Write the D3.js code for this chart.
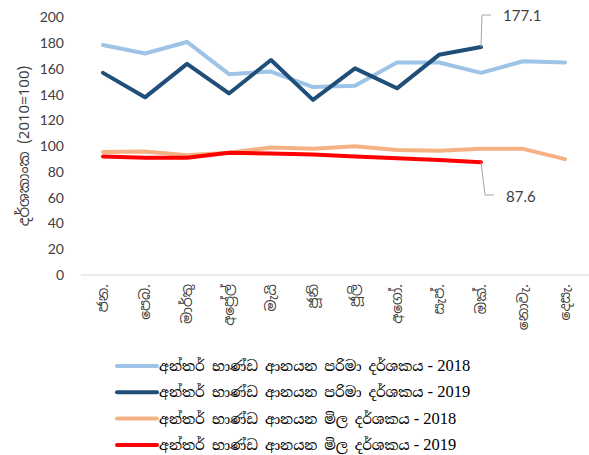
<!DOCTYPE html>
<html lang="si">
<head>
  <meta charset="UTF-8" />
  <title>අන්තර් භාණ්ඩ ආනයන දර්ශක</title>
  <script src="https://cdnjs.cloudflare.com/ajax/libs/d3/7.8.4/d3.min.js"></script>
  <style>
    body {
      margin: 0;
      background: #fff;
      overflow: hidden;
    }
    svg {
      display: block;
    }
    .tick-y text {
      font-family: Lato, "Open Sans", sans-serif;
      font-size: 14px;
      fill: #404040;
    }
    .month text {
      font-family: "Noto Sans Sinhala", "Noto Serif Sinhala", "Iskoola Pota", sans-serif;
      font-size: 14px;
      fill: #404040;
    }
    .legend text {
      font-family: "Noto Serif Sinhala", "Iskoola Pota", "Liberation Serif", serif;
      font-size: 14px;
      fill: #000;
    }
    .legend .yr {
      font-family: "Liberation Serif", serif;
      font-size: 16.5px;
    }
    .series {
      fill: none;
      stroke-width: 4px;
      stroke-linejoin: round;
      stroke-linecap: round;
    }
  </style>
</head>
<body>
  <svg width="589" height="455"></svg>
  <script>
    const months = ["ජන.", "පෙබ.", "මාර්තු", "අප්‍රේල්", "මැයි", "ජූනි", "ජූලි", "අගෝ.", "සැප්.", "ඔක්.", "නොවැ.", "දෙසැ."];
    const yTicks = [0, 20, 40, 60, 80, 100, 120, 140, 160, 180, 200];

    // values (2019 stops at October)
    const volume2018 = [178.6, 172, 181, 156, 158, 146, 147, 165, 165, 157, 166, 165];
    const volume2019 = [157, 138, 164, 141, 167, 136, 160.5, 145, 171, 177.1];
    const price2018 = [95.5, 96, 93, 95, 99, 98, 100, 97, 96.5, 98, 98, 90];
    const price2019 = [92, 91, 91, 95, 94.3, 93.5, 92, 90.6, 89.3, 87.6];

    const seriesLabels = [
      "අන්තර් භාණ්ඩ ආනයන පරිමා දර්ශකය",
      "අන්තර් භාණ්ඩ ආනයන පරිමා දර්ශකය",
      "අන්තර් භාණ්ඩ ආනයන මිල දර්ශකය",
      "අන්තර් භාණ්ඩ ආනයන මිල දර්ශකය"
    ];
    const seriesYears = ["2018", "2019", "2018", "2019"];
    const seriesColors = ["#9dc3e6", "#1f4e79", "#f4b183", "#ff0000"];
    const seriesValues = [volume2018, volume2019, price2018, price2019];

    const svg = d3.select("svg");

    const x = d3.scalePoint()
      .domain(months)
      .range([82, 586])
      .padding(0.5);

    const y = d3.scaleLinear()
      .domain([0, 200])
      .range([275, 17.5]);

    // baseline
    svg.append("line")
      .attr("x1", 81).attr("x2", 589)
      .attr("y1", y(0)).attr("y2", y(0))
      .attr("stroke", "#d9d9d9")
      .attr("stroke-width", 1);

    // y tick labels
    svg.append("g")
      .attr("class", "tick-y")
      .selectAll("text")
      .data(yTicks)
      .enter()
      .append("text")
      .attr("x", 64)
      .attr("y", d => y(d))
      .attr("dy", "0.35em")
      .attr("text-anchor", "end")
      .text(d => d);

    // y axis title
    svg.append("text")
      .attr("transform", "translate(24,146) rotate(-90)")
      .attr("text-anchor", "middle")
      .attr("dy", "0.35em")
      .style("font-family", "\"Noto Sans Sinhala\", \"Iskoola Pota\", Lato, sans-serif")
      .style("font-size", "15px")
      .style("fill", "#404040")
      .text("දර්ශකාංක (2010=100)");

    // month labels, rotated
    svg.append("g")
      .attr("class", "month")
      .selectAll("text")
      .data(months)
      .enter()
      .append("text")
      .attr("transform", d => `translate(${x(d)},284) rotate(-90)`)
      .attr("text-anchor", "end")
      .attr("dy", "0.35em")
      .text(d => d);

    // lines
    const line = d3.line()
      .x((d, i) => x(months[i]))
      .y(d => y(d));

    svg.append("g")
      .selectAll("path")
      .data(seriesValues)
      .enter()
      .append("path")
      .attr("class", "series")
      .attr("stroke", (d, i) => seriesColors[i])
      .attr("d", d => line(d));

    // data labels with leader lines
    const lastIdx = volume2019.length - 1;
    const px = x(months[lastIdx]);

    svg.append("path")
      .attr("d", `M${px},${y(volume2019[lastIdx])} L${px + 1},15 L${px + 10},15`)
      .attr("fill", "none")
      .attr("stroke", "#a6a6a6");
    svg.append("text")
      .attr("x", px + 22)
      .attr("y", 16)
      .attr("dy", "0.35em")
      .style("font-family", "Lato, sans-serif")
      .style("font-size", "15px")
      .style("fill", "#404040")
      .text(volume2019[lastIdx]);

    svg.append("path")
      .attr("d", `M${px},${y(price2019[lastIdx])} L${px + 4},195 L${px + 13},195`)
      .attr("fill", "none")
      .attr("stroke", "#a6a6a6");
    svg.append("text")
      .attr("x", px + 25)
      .attr("y", 197)
      .attr("dy", "0.35em")
      .style("font-family", "Lato, sans-serif")
      .style("font-size", "15px")
      .style("fill", "#404040")
      .text(price2019[lastIdx]);

    // legend
    const legend = svg.append("g")
      .attr("class", "legend")
      .selectAll("g")
      .data(seriesLabels)
      .enter()
      .append("g")
      .attr("transform", (d, i) => `translate(117,${366 + i * 26.3})`);

    legend.append("line")
      .attr("x1", 0).attr("x2", 40)
      .attr("stroke", (d, i) => seriesColors[i])
      .attr("stroke-width", 4)
      .attr("stroke-linecap", "round");

    const lt = legend.append("text")
      .attr("x", 42)
      .attr("dy", "0.35em");
    lt.append("tspan").text(d => d);
    lt.append("tspan")
      .attr("class", "yr")
      .text((d, i) => " - " + seriesYears[i]);
  </script>
</body>
</html>
